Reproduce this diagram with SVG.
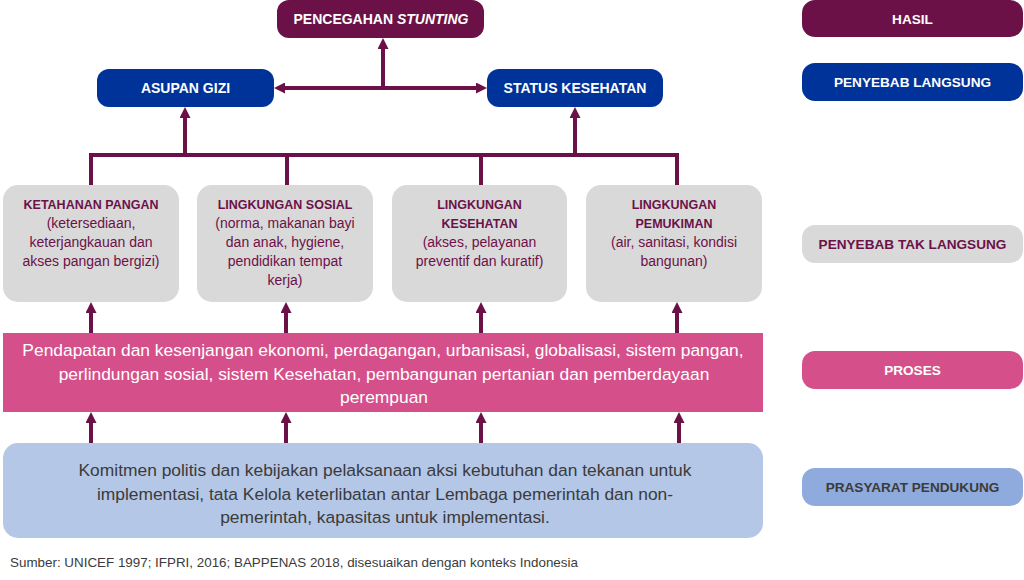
<svg xmlns="http://www.w3.org/2000/svg" width="1024" height="580" viewBox="0 0 1024 580">
<style>
text{font-family:"Liberation Sans",Arial,sans-serif;text-anchor:middle}
.b{font-weight:bold}
.w{fill:#fff}
.p{fill:#6C1148}
.d{fill:#3B3B3B}
.t{font-size:14px}
.gt{font-size:12.5px;font-weight:bold;fill:#6C1148}
.gb{font-size:14px;fill:#6C1148}
.big{font-size:17.4px}
.lg{font-size:13.6px;font-weight:bold}
.c{fill:none;stroke:#6C1148;stroke-width:4}
.a{marker-end:url(#ah)}
</style>
<defs>
<marker id="ah" viewBox="0 0 11 11" markerWidth="11" markerHeight="11" refX="5" refY="5.5" markerUnits="userSpaceOnUse" orient="auto-start-reverse">
<path d="M0,0 L11,5.5 L0,11 z" fill="#6C1148"/>
</marker>
</defs>
<rect width="1024" height="580" fill="#fff"/>

<g id="connectors">
<path class="c a" d="M383,88 V44"/>
<path class="c a" d="M280,88 H481" marker-start="url(#ah)"/>
<path class="c" d="M91,185 V155 H677 V185 M287,155 V185 M481,155 V185"/>
<path class="c a" d="M185,155 V113"/>
<path class="c a" d="M575,155 V113"/>
<path class="c a" d="M91,333 V308"/>
<path class="c a" d="M286,333 V308"/>
<path class="c a" d="M481,333 V308"/>
<path class="c a" d="M677,333 V308"/>
<path class="c a" d="M91,443 V418"/>
<path class="c a" d="M286,443 V418"/>
<path class="c a" d="M481,443 V418"/>
<path class="c a" d="M679,443 V418"/>
</g>

<g id="pencegahan">
<rect x="277" y="0" width="207" height="38" rx="12" fill="#6C1148"/>
<text x="381" y="24" class="t b w"><tspan>PENCEGAHAN </tspan><tspan font-style="italic">STUNTING</tspan></text>
</g>
<g id="asupan">
<rect x="97" y="69" width="177" height="38" rx="12" fill="#003399"/>
<text x="185.5" y="93" class="t b w">ASUPAN GIZI</text>
</g>
<g id="status">
<rect x="487" y="69" width="176" height="38" rx="12" fill="#003399"/>
<text x="575" y="93" class="t b w">STATUS KESEHATAN</text>
</g>

<g id="ketahanan">
<rect x="3" y="185" width="176" height="117" rx="15" fill="#D9D9D9"/>
<text x="91" y="208.5" class="gt">KETAHANAN PANGAN</text>
<text x="91" y="228" class="gb">(ketersediaan,</text>
<text x="91" y="247" class="gb">keterjangkauan dan</text>
<text x="91" y="266" class="gb">akses pangan bergizi)</text>
</g>
<g id="sosial">
<rect x="197" y="185" width="176" height="117" rx="15" fill="#D9D9D9"/>
<text x="285" y="208.5" class="gt">LINGKUNGAN SOSIAL</text>
<text x="285" y="228" class="gb">(norma, makanan bayi</text>
<text x="285" y="247" class="gb">dan anak, hygiene,</text>
<text x="285" y="266" class="gb">pendidikan tempat</text>
<text x="285" y="284.5" class="gb">kerja)</text>
</g>
<g id="kesehatan">
<rect x="392" y="185" width="175" height="117" rx="15" fill="#D9D9D9"/>
<text x="479.5" y="208.5" class="gt">LINGKUNGAN</text>
<text x="479.5" y="227.5" class="gt">KESEHATAN</text>
<text x="479.5" y="247" class="gb">(akses, pelayanan</text>
<text x="479.5" y="266" class="gb">preventif dan kuratif)</text>
</g>
<g id="pemukiman">
<rect x="586" y="185" width="176" height="117" rx="15" fill="#D9D9D9"/>
<text x="674" y="208.5" class="gt">LINGKUNGAN</text>
<text x="674" y="227.5" class="gt">PEMUKIMAN</text>
<text x="674" y="247" class="gb">(air, sanitasi, kondisi</text>
<text x="674" y="266" class="gb">bangunan)</text>
</g>

<g id="proses-bar">
<rect x="3" y="333" width="760" height="79" fill="#D5508A"/>
<text x="383" y="356" class="big w">Pendapatan dan kesenjangan ekonomi, perdagangan, urbanisasi, globalisasi, sistem pangan,</text>
<text x="384" y="379.5" class="big w">perlindungan sosial, sistem Kesehatan, pembangunan pertanian dan pemberdayaan</text>
<text x="384" y="403" class="big w">perempuan</text>
</g>

<g id="prasyarat-box">
<rect x="3" y="443" width="760" height="95" rx="15" fill="#B4C7E7"/>
<text x="385" y="476" class="big d">Komitmen politis dan kebijakan pelaksanaan aksi kebutuhan dan tekanan untuk</text>
<text x="385" y="499.5" class="big d">implementasi, tata Kelola keterlibatan antar Lembaga pemerintah dan non-</text>
<text x="385" y="523" class="big d">pemerintah, kapasitas untuk implementasi.</text>
</g>

<g id="sumber">
<text x="10" y="567" style="text-anchor:start;font-size:13.4px" class="d">Sumber: UNICEF 1997; IFPRI, 2016; BAPPENAS 2018, disesuaikan dengan konteks Indonesia</text>
</g>

<g id="legend-hasil">
<rect x="802" y="0" width="221" height="37" rx="13" fill="#6C1148"/>
<text x="912.5" y="23.5" class="lg w">HASIL</text>
</g>
<g id="legend-langsung">
<rect x="802" y="63" width="221" height="38" rx="13" fill="#003399"/>
<text x="912.5" y="87" class="lg w">PENYEBAB LANGSUNG</text>
</g>
<g id="legend-tak-langsung">
<rect x="802" y="225" width="221" height="38" rx="13" fill="#D9D9D9"/>
<text x="912.5" y="249" class="lg p">PENYEBAB TAK LANGSUNG</text>
</g>
<g id="legend-proses">
<rect x="802" y="351" width="221" height="38" rx="13" fill="#D5508A"/>
<text x="912.5" y="375" class="lg w">PROSES</text>
</g>
<g id="legend-prasyarat">
<rect x="802" y="468" width="221" height="38" rx="13" fill="#8FAADC"/>
<text x="912.5" y="492" class="lg d">PRASYARAT PENDUKUNG</text>
</g>
</svg>
